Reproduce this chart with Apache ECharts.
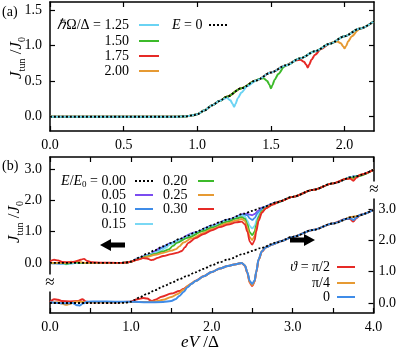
<!DOCTYPE html>
<html>
<head>
<meta charset="utf-8">
<script src="https://cdn.jsdelivr.net/npm/echarts@6/dist/echarts.min.js"></script>
<style>
html,body{margin:0;padding:0;background:#fff;}
#chart{width:399px;height:355px;}
</style>
</head>
<body>
<div id="chart"></div>
<script>
// ---- values ----
// panel (a): E = 0 curve and the dips for each hbar*Omega/Delta
var baseA = [[0,0],[0.5,0],[0.85,0],[0.92,0.005],[0.97,0.02],[1.0,0.035],[1.05,0.09],[1.1,0.16],[1.15,0.22],[1.2,0.28],[1.3,0.40],[1.4,0.51],[1.5,0.62],[1.6,0.72],[1.7,0.82],[1.8,0.92],[1.9,1.025],[2.0,1.13],[2.1,1.235],[2.2,1.34]];
var dip125 = [[1.17,0.24],[1.2,0.265],[1.225,0.23],[1.24,0.18],[1.25,0.14],[1.26,0.18],[1.275,0.26],[1.3,0.34],[1.34,0.43]];
var dip150 = [[1.42,0.53],[1.45,0.54],[1.475,0.5],[1.49,0.45],[1.5,0.40],[1.51,0.44],[1.525,0.52],[1.55,0.6],[1.59,0.7]];
var dip175 = [[1.67,0.79],[1.7,0.80],[1.725,0.77],[1.74,0.73],[1.75,0.69],[1.76,0.73],[1.775,0.80],[1.8,0.87],[1.84,0.95]];
var dip200 = [[1.92,1.045],[1.95,1.055],[1.975,1.03],[1.99,0.99],[2.0,0.96],[2.01,0.99],[2.025,1.06],[2.05,1.13],[2.09,1.21]];

// panel (b): E = 0 curve (both sets) and the stretches where each curve leaves it
var baseB = [[0,0],[0.5,0],[0.85,0],[0.92,0.005],[0.97,0.02],[1.0,0.04],[1.05,0.1],[1.1,0.17],[1.2,0.29],[1.3,0.41],[1.4,0.53],[1.5,0.64],[1.6,0.76],[1.7,0.87],[1.8,0.98],[1.9,1.09],[2.0,1.2],[2.1,1.3],[2.2,1.39],[2.4,1.57],[2.5,1.66],[2.6,1.75],[2.8,1.93],[3.0,2.11],[3.25,2.33],[3.5,2.54],[3.75,2.75],[4.0,2.97]];
var e005 = [
  [[1.0,0.04],[1.1,0.16],[1.2,0.25],[1.25,0.29],[1.3,0.38],[1.36,0.48],[1.5,0.63],[1.8,0.97],[2.0,1.19],[2.2,1.38],[2.4,1.56],[2.44,1.57],[2.47,1.54],[2.5,1.52],[2.53,1.56],[2.57,1.66],[2.62,1.76]]
];
var e010 = [
  [[0.0,-0.01],[0.15,-0.03],[0.3,-0.01],[0.45,0]],
  [[1.0,0.04],[1.1,0.15],[1.2,0.24],[1.28,0.3],[1.33,0.37],[1.38,0.47],[1.45,0.57],[1.6,0.74],[1.8,0.96],[2.0,1.18],[2.2,1.37],[2.4,1.54],[2.44,1.52],[2.47,1.42],[2.5,1.37],[2.53,1.43],[2.57,1.6],[2.63,1.75],[2.7,1.83]]
];
var e015 = [
  [[0.1,0],[0.2,-0.05],[0.27,-0.02],[0.35,0]],
  [[1.0,0.04],[1.1,0.14],[1.2,0.23],[1.3,0.32],[1.38,0.4],[1.43,0.48],[1.48,0.58],[1.6,0.72],[1.8,0.95],[2.0,1.16],[2.2,1.35],[2.37,1.51],[2.41,1.48],[2.44,1.35],[2.47,1.18],[2.5,1.1],[2.53,1.18],[2.56,1.4],[2.6,1.62],[2.67,1.77],[2.75,1.87]]
];
var e020 = [
  [[0.15,0],[0.21,-0.03],[0.26,0.01],[0.31,0.03],[0.36,0]],
  [[1.0,0.04],[1.1,0.13],[1.2,0.21],[1.3,0.29],[1.4,0.37],[1.47,0.43],[1.52,0.54],[1.57,0.64],[1.7,0.8],[1.9,1.02],[2.0,1.13],[2.2,1.32],[2.3,1.41],[2.37,1.46],[2.41,1.41],[2.44,1.24],[2.47,0.98],[2.5,0.89],[2.53,1.0],[2.55,1.2],[2.58,1.47],[2.62,1.66],[2.7,1.8],[2.8,1.92]],
  [[3.68,2.69],[3.72,2.72],[3.75,2.7],[3.79,2.76]]
];
var e025 = [
  [[0.2,0],[0.26,0.04],[0.3,0.02],[0.34,0.07],[0.38,0.02],[0.45,0]],
  [[1.0,0.04],[1.1,0.12],[1.2,0.19],[1.3,0.26],[1.4,0.32],[1.5,0.39],[1.56,0.44],[1.6,0.53],[1.65,0.65],[1.75,0.78],[1.9,0.96],[2.0,1.08],[2.2,1.27],[2.3,1.35],[2.37,1.4],[2.41,1.34],[2.44,1.12],[2.47,0.82],[2.5,0.73],[2.53,0.85],[2.55,1.1],[2.58,1.4],[2.62,1.62],[2.67,1.75],[2.75,1.87],[2.85,1.97]],
  [[3.68,2.69],[3.72,2.7],[3.75,2.66],[3.79,2.74],[3.83,2.81]]
];
var e030 = [
  [[0,0.05],[0.05,0.1],[0.1,0.08],[0.15,0.03],[0.25,0.02],[0.32,0.05],[0.38,0.1],[0.42,0.13],[0.46,0.06],[0.52,0.02],[0.62,0.01]],
  [[1.0,0.04],[1.08,0.1],[1.15,0.15],[1.2,0.14],[1.25,0.09],[1.28,0.1],[1.33,0.16],[1.4,0.22],[1.5,0.28],[1.58,0.33],[1.63,0.38],[1.67,0.5],[1.71,0.64],[1.8,0.79],[1.9,0.92],[2.0,1.04],[2.1,1.14],[2.2,1.22],[2.3,1.29],[2.37,1.32],[2.41,1.23],[2.44,1.0],[2.47,0.68],[2.5,0.58],[2.53,0.72],[2.55,1.0],[2.58,1.35],[2.62,1.6],[2.67,1.74],[2.75,1.86],[2.85,1.97]],
  [[3.66,2.68],[3.71,2.69],[3.75,2.62],[3.79,2.72],[3.84,2.82]]
];
// lower set (right axis): angle theta
var thPi2 = [
  [[0,0.03],[0.05,0.12],[0.1,0.1],[0.15,0.06],[0.25,0.05],[0.35,0.06],[0.4,0.12],[0.44,0.05],[0.5,0.02],[0.8,0.02],[1.0,0.04],[1.08,0.12],[1.15,0.16],[1.2,0.14],[1.26,0.06],[1.3,0.1],[1.38,0.2],[1.5,0.3],[1.6,0.38],[1.65,0.45],[1.7,0.53],[1.75,0.62],[1.8,0.71],[1.9,0.85],[2.0,0.99],[2.1,1.1],[2.2,1.18],[2.3,1.24],[2.37,1.28],[2.41,1.19],[2.44,0.96],[2.47,0.65],[2.5,0.54],[2.53,0.68],[2.55,0.98],[2.58,1.38],[2.62,1.64],[2.67,1.78],[2.75,1.87],[2.85,1.97]],
  [[3.66,2.68],[3.71,2.68],[3.75,2.6],[3.79,2.71],[3.84,2.82]]
];
var thPi4 = [
  [[0,0.01],[0.1,0.02],[0.15,-0.02],[0.2,-0.06],[0.25,-0.03],[0.3,0.03],[0.35,0.05],[0.4,0.03],[0.5,0.02],[0.8,0.02],[1.0,0.03],[1.2,0.03],[1.3,0.05],[1.4,0.1],[1.5,0.19],[1.58,0.29],[1.65,0.42],[1.72,0.57],[1.8,0.7],[1.9,0.85],[2.0,0.99],[2.1,1.1],[2.2,1.18],[2.3,1.24],[2.37,1.28],[2.41,1.2],[2.44,0.97],[2.47,0.67],[2.5,0.57],[2.53,0.7],[2.55,0.99],[2.58,1.39],[2.62,1.65],[2.67,1.78],[2.75,1.87],[2.85,1.97]]
];
var th0 = [
  [[0,0.02],[0.1,0.0],[0.2,-0.01],[0.28,0.0],[0.33,-0.07],[0.37,-0.08],[0.41,-0.01],[0.46,0.04],[0.6,0.05],[0.8,0.04],[1.0,0.04],[1.2,0.02],[1.4,0.03],[1.5,0.06],[1.55,0.12],[1.6,0.22],[1.65,0.35],[1.7,0.5],[1.75,0.61],[1.8,0.7],[1.9,0.85],[2.0,0.99],[2.1,1.1],[2.2,1.18],[2.3,1.24],[2.37,1.28],[2.41,1.2],[2.44,0.98],[2.47,0.7],[2.5,0.61],[2.53,0.72],[2.55,1.0],[2.58,1.4],[2.62,1.65],[2.67,1.78],[2.75,1.87],[2.85,1.97]],
  [[3.68,2.69],[3.72,2.7],[3.75,2.65],[3.79,2.73],[3.83,2.81]]
];

var ticksAx = [0,0.5,1,1.5,2];
var ticksAy = [0,0.5,1,1.5];
var ticksBx = [0,0.5,1,1.5,2,2.5,3,3.5,4];
var labelsBx = [0,1,2,3,4];
var ticksBy = [0,1,2,3];

// ---- helpers ----
var F = 'Liberation Serif';
var FQ = '"Liberation Serif"';
var C = {cyan:'#6ad3f3', green:'#3cba2a', red:'#e62a26', orange:'#e69a33', purple:'#7b4cf0', blue:'#3f8ce8', lcyan:'#7ad8f4'};

// curve = E=0 curve, replaced by the read stretches where they exist
function withBase(base, segs){
    var pts = base.filter(function(p){
        return !segs.some(function(s){ return p[0] >= s[0][0] && p[0] <= s[s.length-1][0]; });
    });
    segs.forEach(function(s){ pts = pts.concat(s); });
    return pts.sort(function(a,b){ return a[0]-b[0]; });
}

function line(data, color, xi, yi, width, dotted){
    return {
        type:'line', data:data, xAxisIndex:xi, yAxisIndex:yi,
        symbol:'none', smooth:0.3, smoothMonotone:'x', silent:true,
        lineStyle:{color:color, width:width, type: dotted ? [2,2] : 'solid'},
        z: dotted ? 5 : 3
    };
}

function axis(grid, min, max, ticks, labels, pos){
    return {
        type:'value', gridIndex:grid, min:min, max:max, position:pos,
        axisLine:{show:true, onZero:false, lineStyle:{color:'#000', width:1.5}},
        axisTick:{show:true, inside:true, length:5, customValues:ticks, lineStyle:{color:'#000', width:1.2}},
        axisLabel:{show:!!labels, customValues:labels || [], color:'#000', fontFamily:F, fontSize:14,
            margin: pos === 'right' ? 5 : (pos === 'left' ? 8 : 7),
            formatter:function(v){ return v.toFixed(1); }},
        splitLine:{show:false}
    };
}

var RICH = {
    i:{font:'italic 14px ' + FQ, lineHeight:16},
    s:{font:'9px ' + FQ, lineHeight:9, verticalAlign:'bottom'},
    r:{font:'14px ' + FQ, lineHeight:16}
};
var RICH_BIG = {
    i:{font:'italic 17px ' + FQ, lineHeight:20},
    s:{font:'10px ' + FQ, lineHeight:10, verticalAlign:'bottom'},
    r:{font:'17px ' + FQ, lineHeight:20}
};
function txt(x, y, text, align, rot, big){
    return {type:'text', x:x, y:y, z:100, rotation:rot || 0, style:{
        text:text, font:(big ? '17px ' : '14px ') + FQ, fill:'#000', align:align || 'left', verticalAlign:'middle',
        rich: big ? RICH_BIG : RICH}};
}
function seg(x1, x2, y, color, dotted){
    return {type:'line', z:100, shape:{x1:x1, y1:y, x2:x2, y2:y},
        style:{stroke:color, lineWidth:2, lineDash: dotted ? [2,2] : null}};
}
function brk(x, y){
    return {type:'text', x:x, y:y, z:100, style:{text:'≈', font:'17px ' + FQ, fill:'#000',
        align:'center', verticalAlign:'middle', backgroundColor:'#fff'}};
}

var chart = echarts.init(document.getElementById('chart'));
chart.setOption({
    animation:false,
    backgroundColor:'#fff',
    textStyle:{fontFamily:F},
    grid:[
        {left:50, right:25, top:2, height:129},
        {left:50, right:25, top:157, height:156}
    ],
    xAxis:[
        axis(0, 0, 2.2, ticksAx, ticksAx, 'bottom'),
        axis(0, 0, 2.2, ticksAx, null, 'top'),
        axis(1, 0, 4, ticksBx, labelsBx, 'bottom'),
        axis(1, 0, 4, ticksBx, null, 'top')
    ],
    yAxis:[
        axis(0, -0.2, 1.61, ticksAy, ticksAy, 'left'),
        axis(0, -0.2, 1.61, ticksAy, null, 'right'),
        axis(1, -1.6, 3.38, ticksBy, ticksBy, 'left'),
        axis(1, -0.32, 4.66, ticksBy, ticksBy, 'right')
    ],
    series:[
        line(withBase(baseA, [dip200]), C.orange, 0, 0, 2),
        line(withBase(baseA, [dip175]), C.red, 0, 0, 2),
        line(withBase(baseA, [dip150]), C.green, 0, 0, 2),
        line(withBase(baseA, [dip125]), C.cyan, 0, 0, 2),
        line(baseA, '#000', 0, 0, 1.8, true),

        line(withBase(baseB, e005), C.purple, 2, 2, 1.8),
        line(withBase(baseB, e010), C.blue, 2, 2, 1.8),
        line(withBase(baseB, e015), C.lcyan, 2, 2, 1.8),
        line(withBase(baseB, e020), C.green, 2, 2, 1.8),
        line(withBase(baseB, e025), C.orange, 2, 2, 1.8),
        line(withBase(baseB, e030), C.red, 2, 2, 1.8),
        line(baseB, '#000', 2, 2, 1.8, true),

        line(withBase(baseB, thPi2), C.red, 2, 3, 2),
        line(withBase(baseB, thPi4), C.orange, 2, 3, 2),
        line(withBase(baseB, th0), C.blue, 2, 3, 2),
        line(baseB, '#000', 2, 3, 1.8, true)
    ],
    graphic:[
        txt(2, 12, '(a)'),
        txt(2, 166, '(b)'),
        txt(17, 58, '{i|J}{s|tun}{r| /}{i|J}{s|0}', 'center', Math.PI/2, true),
        txt(15, 222, '{i|J}{s|tun}{r| /}{i|J}{s|0}', 'center', Math.PI/2, true),
        txt(200, 343, '{i|eV}{r| /Δ}', 'center', 0, true),

        // legend (a)
        txt(129, 25, '{i|ℏ}{r|Ω/Δ = 1.25}', 'right'),
        txt(129, 41, '1.50', 'right'),
        txt(129, 56, '1.75', 'right'),
        txt(129, 71, '2.00', 'right'),
        seg(139, 159, 25, C.cyan), seg(139, 159, 41, C.green), seg(139, 159, 56, C.red), seg(139, 159, 71, C.orange),
        txt(172, 25, '{i|E}{r| = 0}'),
        seg(209, 228, 25, '#000', true),

        // legend (b) E/E0
        txt(126, 181, '{i|E}{r|/}{i|E}{s|0}{r| = 0.00}', 'right'),
        txt(126, 195, '0.05', 'right'),
        txt(126, 209, '0.10', 'right'),
        txt(126, 224, '0.15', 'right'),
        seg(135, 153, 181, '#000', true), seg(135, 153, 195, C.purple), seg(135, 153, 209, C.blue), seg(135, 153, 224, C.lcyan),
        txt(163, 181, '0.20'), txt(163, 195, '0.25'), txt(163, 209, '0.30'),
        seg(198, 214, 181, C.green), seg(198, 214, 195, C.orange), seg(198, 214, 209, C.red),

        // legend (b) theta
        txt(330, 267, '{i|ϑ}{r| = π/2}', 'right'),
        txt(330, 283, 'π/4', 'right'),
        txt(330, 297, '0', 'right'),
        seg(337, 355, 267, C.red), seg(337, 355, 283, C.orange), seg(337, 355, 297, C.blue),

        // arrows
        {type:'polygon', z:100, shape:{points:[[100,245],[111,239],[111,242.5],[125,242.5],[125,247.5],[111,247.5],[111,251]]}, style:{fill:'#000'}},
        {type:'polygon', z:100, shape:{points:[[315,240],[304,234],[304,237.5],[290,237.5],[290,242.5],[304,242.5],[304,246]]}, style:{fill:'#000'}},

        // axis breaks
        brk(50, 283),
        brk(374, 190)
    ]
});
</script>
</body>
</html>
